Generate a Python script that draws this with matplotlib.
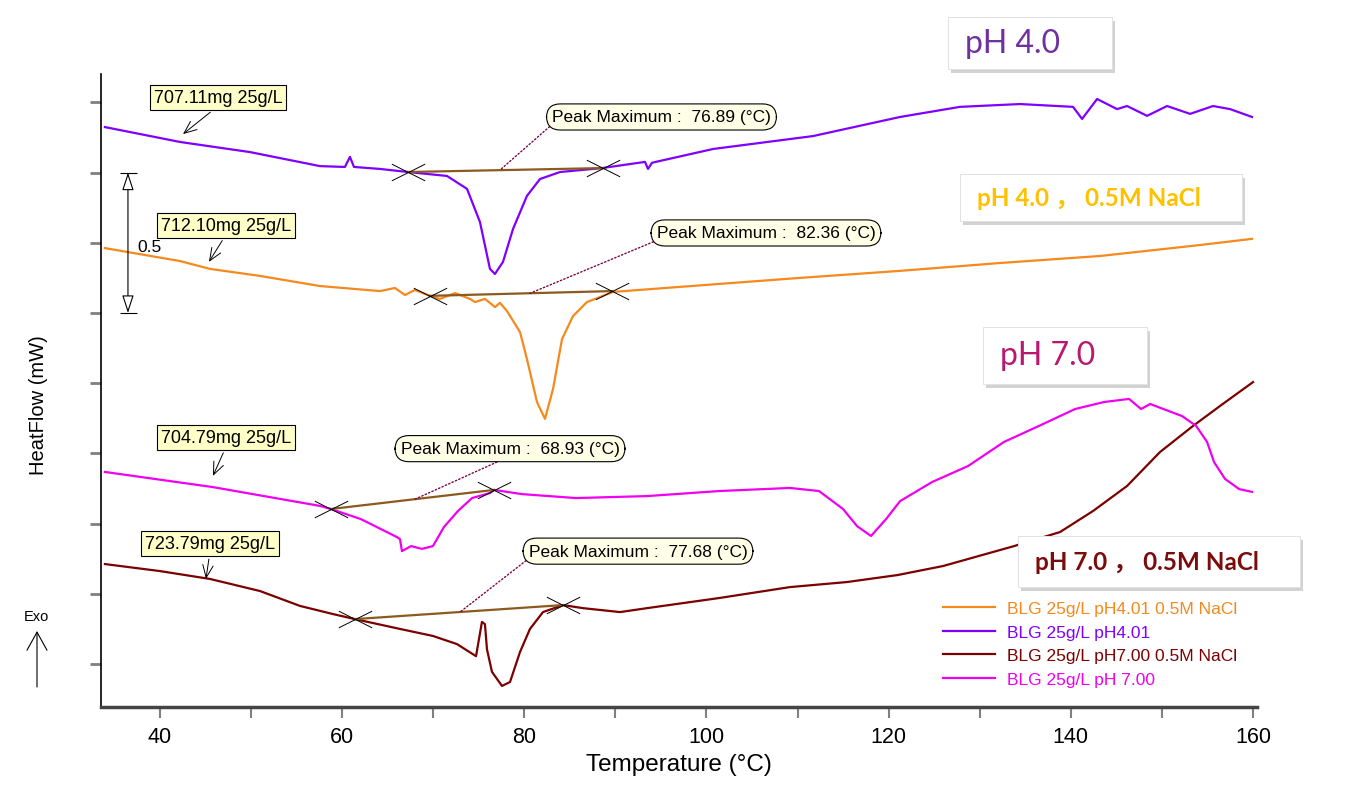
import numpy as np
import matplotlib
matplotlib.use('Agg')
import matplotlib.pyplot as plt
from matplotlib.path import Path
from matplotlib.patches import Rectangle
import matplotlib.patheffects as pe

plt.rcParams['font.family'] = ['Liberation Sans', 'DejaVu Sans']

# =============================================================================
# DATA  (temperature in degC, heat flow in mW with arbitrary offsets)
# =============================================================================
T_PH4 = [33.96, 42.20, 49.88, 57.57, 60.31, 60.86, 61.30, 64.15, 67.23, 71.51, 73.71,
         75.13, 76.23, 76.78, 77.66, 78.76, 80.29, 81.72, 83.92, 88.53, 93.25, 93.58,
         94.02, 100.72, 111.70, 121.25, 127.83, 134.42, 140.24, 141.23, 142.88, 145.07,
         146.17, 148.37, 150.56, 153.09, 155.61, 157.48, 159.89]
HF_PH4 = [1.912, 1.859, 1.823, 1.773, 1.770, 1.806, 1.770, 1.763, 1.752, 1.738, 1.692,
          1.574, 1.407, 1.389, 1.432, 1.549, 1.667, 1.727, 1.752, 1.766, 1.788, 1.763,
          1.785, 1.834, 1.880, 1.948, 1.984, 1.994, 1.984, 1.941, 2.012, 1.976,
          1.987, 1.952, 1.987, 1.959, 1.987, 1.976, 1.948]

T_PH4_NACL = [33.96, 42.20, 45.49, 50.98, 57.57, 64.15, 65.80, 66.90, 68.00, 69.64, 70.74,
              72.39, 74.04, 74.59, 75.68, 76.23, 76.78, 77.33, 78.10, 79.53, 80.29, 81.39,
              82.27, 83.15, 84.14, 85.35, 86.88, 89.74, 97.09, 110.27, 121.25, 132.23,
              143.21, 154.18, 159.89]
HF_PH4_NACL = [1.481, 1.435, 1.407, 1.382, 1.346, 1.328, 1.339, 1.314, 1.332, 1.311, 1.300,
               1.321, 1.300, 1.289, 1.300, 1.286, 1.271, 1.286, 1.257, 1.182, 1.086, 0.933,
               0.873, 0.979, 1.157, 1.239, 1.289, 1.325, 1.343, 1.375, 1.400, 1.428,
               1.453, 1.492, 1.514]

T_PH7 = [33.96, 45.82, 57.57, 58.77, 62.07, 66.02, 66.35, 66.57, 67.56, 68.77, 69.97,
         71.18, 72.72, 74.26, 76.23, 76.67, 79.75, 85.67, 93.47, 101.38, 109.17, 112.35,
         114.99, 116.53, 118.06, 119.71, 121.25, 124.76, 128.71, 132.67, 136.51, 140.46,
         143.65, 146.39, 147.71, 148.70, 152.21, 153.75, 154.95, 155.72, 156.93, 158.47,
         159.89]
HF_PH7 = [0.684, 0.630, 0.563, 0.552, 0.516, 0.452, 0.445, 0.402, 0.420, 0.410, 0.420,
          0.488, 0.545, 0.591, 0.609, 0.620, 0.605, 0.591, 0.598, 0.616, 0.627, 0.616,
          0.552, 0.491, 0.456, 0.516, 0.580, 0.648, 0.705, 0.791, 0.848, 0.908,
          0.933, 0.944, 0.908, 0.926, 0.883, 0.848, 0.791, 0.719, 0.659, 0.623,
          0.613]

T_PH7_NACL = [33.96, 40.00, 45.49, 50.98, 55.37, 58.99, 61.41, 66.35, 69.97, 72.61, 74.70,
              75.35, 75.68, 75.90, 76.45, 77.55, 78.43, 79.53, 80.62, 82.05, 84.25, 86.44,
              90.51, 93.47, 101.38, 109.17, 115.43, 121.00, 125.97, 133.77, 138.81, 142.44,
              146.17, 149.79, 153.42, 156.38, 160.00]
HF_PH7_NACL = [0.356, 0.331, 0.303, 0.260, 0.207, 0.178, 0.160, 0.125, 0.100, 0.071, 0.028,
               0.150, 0.142, 0.053, -0.028, -0.078, -0.064, 0.043, 0.125, 0.185, 0.210, 0.199,
               0.185, 0.199, 0.235, 0.274, 0.292, 0.317, 0.349, 0.420, 0.470, 0.545,
               0.634, 0.755, 0.848, 0.919, 1.004]

LEGEND_LABELS = ['BLG 25g/L pH4.01 0.5M NaCl', 'BLG 25g/L pH4.01',
                 'BLG 25g/L pH7.00 0.5M NaCl', 'BLG 25g/L pH 7.00']
SAMPLE_MASS = ['712.10mg 25g/L', '707.11mg 25g/L', '723.79mg 25g/L', '704.79mg 25g/L']
PEAK_T = [82.36, 76.89, 77.68, 68.93]

# integration baselines: (T_start, HF_start, T_end, HF_end)
BASE_PH4_NACL = [69.64, 1.311, 89.63, 1.328]
BASE_PH4 = [67.23, 1.752, 88.64, 1.766]
BASE_PH7_NACL = [61.41, 0.160, 84.25, 0.210]
BASE_PH7 = [58.77, 0.552, 76.67, 0.620]

COLORS = ['#F5891E', '#7F00FF', '#7B0000', '#F000F0']
BASE_COLOR = '#8C5A1E'

series = [(T_PH4_NACL, HF_PH4_NACL, BASE_PH4_NACL),
          (T_PH4, HF_PH4, BASE_PH4),
          (T_PH7_NACL, HF_PH7_NACL, BASE_PH7_NACL),
          (T_PH7, HF_PH7, BASE_PH7)]

# label placement (data coords): mass box centre, arrow tip, peak box centre, dotted-line tip
MASS_BOX = [(47.30, 1.562), (46.37, 2.017), (45.49, 0.429), (47.30, 0.807)]
MASS_TIP = [(45.38, 1.432), (42.53, 1.887), (45.05, 0.303), (45.82, 0.670)]
PEAK_BOX = [(106.53, 1.535), (95.06, 1.948), (92.48, 0.402), (78.43, 0.767)]
PEAK_TIP = [(80.62, 1.320), (77.33, 1.759), (72.94, 0.185), (68.00, 0.587)]
PEAK_REL = [(0, 0), (0, 0), (0, 0), (0.5, 0)]

# =============================================================================
# FIGURE
# =============================================================================
fig = plt.figure(figsize=(13.6, 8.03), dpi=100)
ax = fig.add_axes([0.0746, 0.1183, 0.8497, 0.7883])

cross = Path([(-1, -0.5), (1, 0.5), (-1, 0.5), (1, -0.5)],
             [Path.MOVETO, Path.LINETO, Path.MOVETO, Path.LINETO])

for (t, hf, base), col, lab in zip(series, COLORS, LEGEND_LABELS):
    ax.plot(t, hf, color=col, lw=1.6, label=lab, zorder=3)
    ax.plot([base[0], base[2]], [base[1], base[3]], color=BASE_COLOR, lw=1.6, zorder=4)
    ax.plot([base[0], base[2]], [base[1], base[3]], ls='none', marker=cross,
            markersize=24, markeredgecolor='black', markeredgewidth=0.7, zorder=5)

for txt, box, tip in zip(SAMPLE_MASS, MASS_BOX, MASS_TIP):
    ax.annotate(txt, xy=tip, xytext=box, ha='center', va='center', fontsize=13,
                bbox=dict(boxstyle='square,pad=0.22', fc='#FFFFC8', ec='black', lw=0.8),
                arrowprops=dict(arrowstyle='->,head_length=0.6,head_width=0.25',
                                mutation_scale=15, lw=0.7, color='black',
                                relpos=(0.5, 0), shrinkA=2, shrinkB=0),
                zorder=6)

for pk, box, tip, rel in zip(PEAK_T, PEAK_BOX, PEAK_TIP, PEAK_REL):
    ax.annotate(f'Peak Maximum :  {pk:.2f} (°C)', xy=tip, xytext=box,
                ha='center', va='center', fontsize=12.5,
                bbox=dict(boxstyle='round,pad=0.32,rounding_size=0.8', fc='#FFFFE8',
                          ec='black', lw=0.8),
                arrowprops=dict(arrowstyle='-', ls=':', lw=1.0, color='#800040',
                                relpos=rel, shrinkA=0, shrinkB=0),
                zorder=6)

# 0.5 mW scale bar
ax.annotate('', xy=(36.49, 1.75), xytext=(36.49, 1.25),
            arrowprops=dict(arrowstyle='<|-|>,head_length=0.55,head_width=0.18',
                            mutation_scale=20, fc='white', ec='black', lw=0.8,
                            shrinkA=0, shrinkB=0))
ax.hlines([1.75, 1.25], 35.61, 37.47, color='black', lw=0.8)
ax.text(37.5, 1.488, '0.5', fontsize=12.5, ha='left', va='center', zorder=7)

ax.set_xlim(33.58, 160.44)
ax.set_ylim(-0.153, 2.101)
ax.set_xticks(np.arange(40, 161, 20))
ax.set_xticks(np.arange(50, 160, 20), minor=True)
ax.set_yticks(np.arange(0, 2.01, 0.25))
ax.set_yticklabels([])
ax.tick_params(axis='x', which='both', direction='out', length=8, width=1.5,
               color='#808080', labelsize=15.5, pad=6)
ax.tick_params(axis='y', direction='out', length=8, width=2, color='#808080')
for s in ['top', 'right']:
    ax.spines[s].set_visible(False)
ax.spines['left'].set_linewidth(1.2)
ax.spines['bottom'].set_linewidth(2.5)
ax.spines['bottom'].set_color('#444444')

ax.set_xlabel('Temperature (°C)', fontsize=17.5, labelpad=4)
ax.set_ylabel('HeatFlow (mW)', fontsize=14.5)
ax.yaxis.set_label_coords(-0.046, 0.479)

ax.legend(loc='upper left', bbox_to_anchor=(0.728, 0.168), frameon=False, fontsize=12.5,
          labelcolor='linecolor', handlelength=3.0, handletextpad=0.7, labelspacing=0.5,
          borderpad=0, borderaxespad=0)

# Exo arrow
fig.text(36 / 1360, 1 - 617 / 803, 'Exo', fontsize=10.5, ha='center', va='center')
ax.annotate('', xy=(37 / 1360, 1 - 632 / 803), xytext=(37 / 1360, 1 - 688 / 803),
            xycoords='figure fraction', textcoords='figure fraction',
            arrowprops=dict(arrowstyle='->,head_length=0.65,head_width=0.36',
                            mutation_scale=20, lw=0.8, color='black',
                            shrinkA=0, shrinkB=0))

# condition boxes
cond = [((948, 18, 1112, 70), 'pH 4.0', '#7030A0', 23, 'normal'),
        ((960, 175, 1242, 222), 'pH 4.0 ， 0.5M NaCl', '#FFC000', 17.5, 'bold'),
        ((983, 328, 1147, 385), 'pH 7.0', '#B8196E', 23, 'normal'),
        ((1018, 537, 1300, 588), 'pH 7.0 ， 0.5M NaCl', '#7A0C0C', 17.5, 'bold')]
for (x0, y0, x1, y1), txt, col, fs, fw in cond:
    rect = Rectangle((x0 / 1360, 1 - y1 / 803), (x1 - x0) / 1360, (y1 - y0) / 803,
                     transform=fig.transFigure, fc='white', ec='#E0E0E0', lw=0.6, zorder=10)
    rect.set_path_effects([pe.withSimplePatchShadow(offset=(2, -3), shadow_rgbFace='gray',
                                                    alpha=0.35), pe.Normal()])
    fig.add_artist(rect)
    fig.text((x0 + 17) / 1360, 1 - (y0 + y1) / 2 / 803, txt, color=col, fontsize=fs,
             fontweight=fw, ha='left', va='center', family=['Lato', 'Noto Sans CJK SC'],
             zorder=11)

fig.savefig('out.png', dpi=100)
